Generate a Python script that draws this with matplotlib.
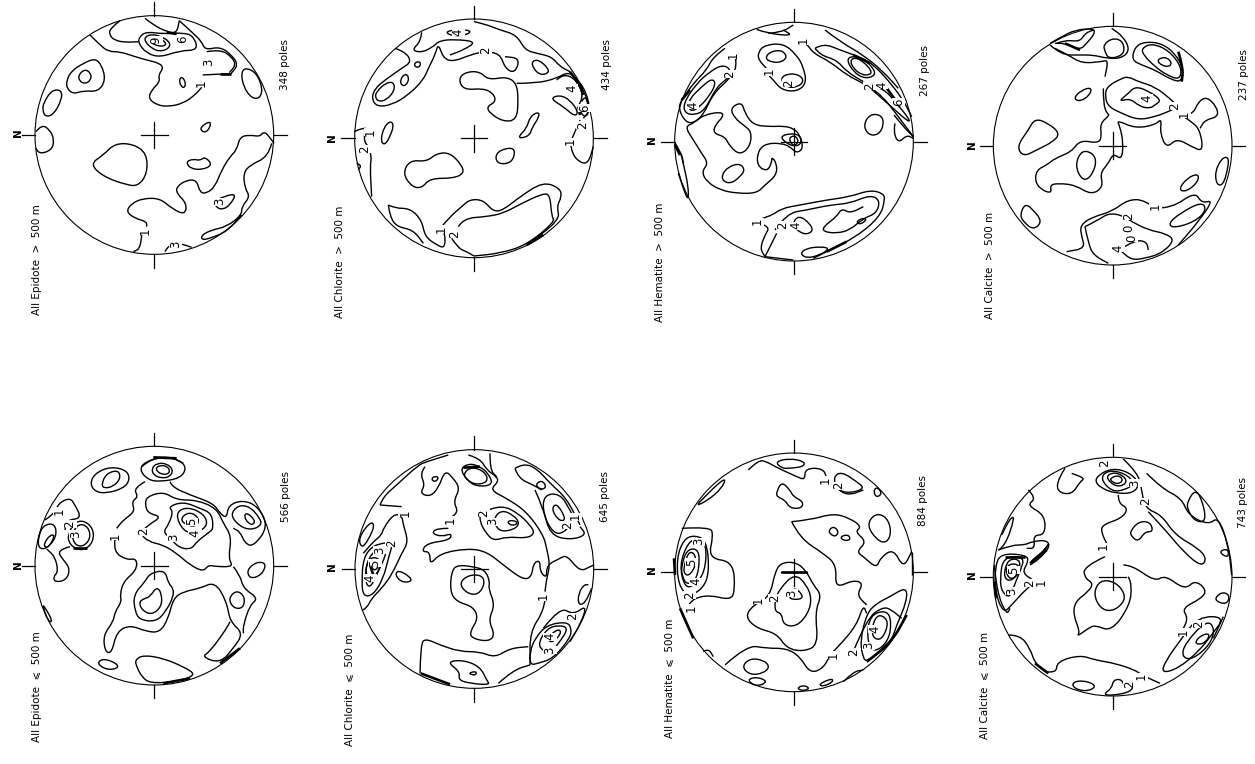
import matplotlib
matplotlib.use("Agg")
import matplotlib.pyplot as plt
from matplotlib.path import Path
from matplotlib.patches import PathPatch, Circle

# contour traces, in 3x crop units of each panel window
epidote_hi_lines = [
    [(210,105),(240,135),(265,155),(300,155),(345,170),(380,180),(420,190),(430,205),(415,225),(420,245),(395,270),(385,295),(410,315),(445,320),(490,310),(525,285),(545,262)],
    [(548,225),(600,222),(632,222)],
    [(375,55),(400,75),(440,95),(470,100),(478,62)],
    [(478,62),(520,100),(545,125),(555,150),(600,140),(635,165),(655,195),(632,222)],
    [(358,110),(380,95),(430,102),(490,98),(520,108),(535,150),(480,152),(420,172),(380,160),(355,130),(358,110)],
    [(375,110),(395,103),(420,108),(450,125),(448,145),(420,155),(395,145),(375,125),(375,110)],
    [(385,115),(405,108),(430,120),(440,135),(420,140),(395,130),(385,115)],
    [(300,62),(270,85),(268,105),(285,122),(320,127),(355,125)],
    [(560,155),(600,148),(635,170),(648,195),(628,218)],
    [(140,240),(155,212),(190,190),(225,175),(245,195),(257,240),(235,275),(190,272),(160,282),(140,265),(140,240)],
    [(175,225),(195,207),(213,220),(213,240),(195,252),(178,243),(175,225)],
    [(70,310),(95,270),(125,270),(125,300),(100,345),(75,350),(68,330),(70,310)],
    [(48,395),(65,373),(90,390),(103,420),(95,450),(60,462),(47,445)],
    [(663,215),(680,203),(710,220),(728,265),(720,295),(695,295),(670,260),(663,215)],
    [(476,245),(485,228),(499,250),(490,267),(476,245)],
    [(537,385),(570,362),(572,380),(555,400),(537,385)],
    [(210,492),(250,465),(285,430),(340,432),(380,460),(382,520),(355,558),(320,555),(250,530),(210,492)],
    [(498,485),(520,477),(540,482),(555,470),(578,495),(545,510),(510,505),(498,485)],
    [(762,430),(745,405),(730,395),(720,410),(690,405),(660,410),(650,450),(630,470),(605,510),(585,560),(560,580),(540,578),(530,540),(500,540),(470,560),(470,580),(500,610),(495,645),(455,625),(420,595),(370,595),(335,610),(318,635),(345,655),(380,665),(380,680)],
    [(365,705),(362,745),(340,755)],
    [(755,430),(745,470),(690,495),(670,520),(675,565),(690,590),(665,620),(665,645),(620,680),(575,690),(545,705),(545,720),(570,715),(620,695),(665,645)],
    [(580,605),(610,590),(650,580),(630,615),(610,628),(592,625),(580,605)],
    [(435,755),(445,735),(480,730),(515,742)],
]
chlorite_hi_lines = [
    [(195,145),(225,155),(245,185),(215,205),(165,240),(135,265),(125,295),(140,320),(185,315),(235,285),(280,240),(295,205),(315,165),(325,130),(340,175),(370,185),(420,165),(460,155),(510,160),(525,205),(555,220),(570,175),(525,170)],
    [(275,97),(272,125),(245,150),(275,158),(310,140),(328,122),(375,118),(440,125),(400,150),(360,165)],
    [(432,65),(465,72),(510,90),(560,105),(585,150),(620,160),(665,170),(690,200),(720,215)],
    [(140,275),(165,250),(190,245),(195,270),(170,300),(145,305),(135,290),(140,275)],
    [(210,240),(225,220),(238,232),(230,255),(215,258),(210,240)],
    [(250,195),(262,183),(274,190),(265,205),(250,195)],
    [(345,95),(385,88),(425,92),(410,105),(365,108),(345,95)],
    [(605,185),(625,178),(655,205),(655,220),(630,225),(610,205),(605,185)],
    [(385,235),(410,215),(450,215),(475,240),(530,230),(560,250),(565,300),(560,360),(520,365),(480,340),(470,320),(498,305),(490,280),(460,265),(400,270),(385,235)],
    [(560,250),(620,250),(680,235),(715,215),(745,240),(770,280),(780,330),(760,355)],
    [(680,240),(700,220),(740,240),(760,285),(745,320)],
    [(660,295),(690,285),(720,300),(745,335),(735,350),(700,320),(660,295)],
    [(755,305),(765,285),(775,315),(775,345),(760,350),(750,330)],
    [(722,425),(735,395),(750,360)],
    [(722,430),(725,460),(750,488),(775,490),(790,440)],
    [(152,425),(160,385),(180,362),(192,375),(180,410),(165,435),(152,425)],
    [(72,395),(105,380),(120,395)],
    [(105,395),(100,420),(115,440),(125,470),(120,500),(125,590)],
    [(80,490),(95,495),(85,510)],
    [(565,410),(590,385),(600,350),(625,335),(628,350),(605,385),(600,405),(575,415),(565,410)],
    [(495,470),(510,450),(550,442),(555,465),(540,490),(505,492),(495,470)],
    [(218,520),(240,480),(290,485),(320,460),(360,458),(395,495),(402,520),(370,535),(300,535),(275,565),(245,560),(218,520)],
    [(335,680),(360,650),(395,620),(420,598),(460,600),(490,635),(520,630),(570,590),(640,545),(690,565),(695,590),(680,620),(690,660),(590,735)],
    [(175,615),(195,625),(240,625),(275,660),(285,710),(320,735),(345,745),(345,700),(335,690)],
    [(175,615),(180,650),(200,680),(250,690),(280,730)],
    [(385,680),(400,655),(470,650),(520,640),(575,610),(640,580),(660,585),(665,650),(675,665),(590,735),(510,760),(432,768)],
    [(365,715),(385,745),(410,755),(432,768)],
]
hematite_hi_lines = [
    [(320,88),(350,100),(430,108),(400,90)],
    [(355,100),(395,97),(430,75)],
    [(445,115),(470,130),(490,160),(540,185),(590,225),(640,250),(695,285),(745,350),(790,410)],
    [(525,90),(570,125),(640,165),(700,215),(745,265)],
    [(495,145),(520,130),(570,150),(640,175),(670,195),(710,235),(760,300),(785,350)],
    [(590,180),(605,168),(640,175),(675,210),(672,230),(640,235),(610,215),(590,180)],
    [(600,182),(615,172),(640,185),(665,212),(660,225),(635,225),(610,205),(600,182)],
    [(495,145),(510,165),(560,180),(590,215),(640,245)],
    [(650,255),(700,265),(740,310),(780,360),(775,365),(735,330),(690,290),(650,255)],
    [(735,370),(730,395),(745,430),(770,405),(790,415)],
    [(732,345),(760,380),(790,410)],
    [(640,375),(660,342),(695,345),(702,375),(685,405),(655,405),(640,375)],
    [(325,155),(345,135),(400,130),(440,165),(460,200),(470,250),(440,275),(395,270),(370,240),(355,225),(355,210),(325,180),(325,155)],
    [(345,175),(360,155),(395,150),(412,170),(395,187),(365,187),(345,175)],
    [(390,235),(415,220),(450,225),(462,245),(440,262),(410,262),(390,235)],
    [(225,145),(190,170),(170,210),(130,250),(95,300)],
    [(255,165),(262,200),(240,235),(190,280),(160,345),(130,370),(105,365),(85,325),(95,300)],
    [(120,295),(150,265),(185,235),(198,250),(180,285),(150,320),(125,335),(115,320),(120,295)],
    [(100,310),(140,250),(180,215),(215,195),(240,205),(240,230),(200,260),(165,330),(135,345),(105,340),(100,310)],
    [(105,380),(130,370),(160,345),(215,335),(220,350),(195,375),(190,400),(225,410),(240,440),(270,465),(300,440),(305,395),(280,375),(255,355),(240,325),(275,305),(285,340),(310,375),(360,380),(400,378),(430,385),(450,405),(460,445),(440,460),(420,440),(395,430),(350,430),(325,450),(320,495),(350,515),(365,490),(365,470),(380,490),(380,525),(345,555),(320,580),(260,580),(210,570),(170,545),(155,515),(175,490),(155,460),(130,420),(105,380)],
    [(215,525),(235,500),(270,490),(285,510),(270,530),(245,550),(220,545),(215,525)],
    [(390,410),(420,400),(450,405),(455,430),(435,440),(410,430),(390,410)],
    [(415,415),(435,405),(447,425),(430,440),(415,415)],
    [(72,425),(90,450),(100,490),(115,560),(115,600),(105,580),(85,520)],
    [(75,435),(95,460),(100,490)],
    [(320,660),(360,650),(395,625),(450,615),(530,600),(600,590),(660,570),(700,580),(705,600),(690,650),(620,710),(530,755),(490,775)],
    [(330,670),(360,680),(345,705),(330,745),(345,770)],
    [(375,690),(410,640),(470,630),(540,615),(600,610),(660,585),(690,600),(680,640),(640,655),(600,690),(560,700),(520,695),(520,680),(560,650),(575,625),(600,640),(640,620)],
    [(345,770),(365,730),(380,700)],
    [(425,675),(445,645),(480,670),(490,695),(460,705),(425,675)],
    [(618,665),(640,653),(650,660),(630,674),(618,665)],
    [(450,760),(470,745),(510,740),(540,745),(510,765),(470,775),(450,760)],
    [(345,770),(430,780)],
]
calcite_hi_lines = [
    [(255,130),(290,110),(330,90),(385,85),(390,100),(365,130),(345,150),(300,130),(270,130)],
    [(255,135),(290,165),(340,165),(385,165),(425,175),(470,175),(495,150),(475,110),(440,85)],
    [(270,145),(310,165),(350,190),(410,185),(430,180),(420,230)],
    [(415,135),(440,115),(470,120),(480,150),(465,170),(430,175),(420,155),(415,135)],
    [(275,130),(300,120),(345,125),(360,100),(385,90)],
    [(500,180),(510,140),(540,125),(590,130),(630,160),(655,205),(650,245),(620,240),(570,210),(530,195),(500,180)],
    [(530,145),(560,130),(610,150),(650,200),(645,240),(605,225),(570,200),(535,165),(530,145)],
    [(575,180),(600,170),(620,185),(615,200),(590,197),(575,180)],
    [(325,295),(350,270),(380,262),(375,285),(345,305),(325,295)],
    [(155,440),(190,390),(210,355),(250,370),(285,400),(265,425),(215,450),(175,470),(155,440)],
    [(165,645),(180,610),(205,630),(232,665),(205,690),(175,665),(165,645)],
    [(750,515),(770,475),(790,470),(790,500),(775,555),(755,555),(750,515)],
    [(640,570),(665,535),(700,520),(700,545),(665,575),(640,570)],
    [(610,670),(645,640),(710,605),(725,630),(690,665),(625,685),(610,670)],
    [(425,260),(470,235),(490,230),(520,245),(570,260),(620,300),(640,320),(610,335),(570,350),(520,360),(470,340),(430,320),(420,290),(425,260)],
    [(460,305),(490,280),(510,260),(545,270),(590,300),(570,315),(555,325),(525,320),(495,295),(460,305)],
    [(415,265),(415,310),(425,340),(435,345),(405,370),(410,410),(400,430),(345,420),(320,455),(270,475),(245,495),(215,510),(210,545),(230,570),(260,580),(255,555),(280,550),(330,555),(380,585),(415,560),(405,520),(430,490),(445,460),(470,480),(475,430),(465,380),(455,360),(510,385),(570,375),(590,355),(585,400),(605,445),(635,415),(680,440),(715,455),(705,390),(680,365),(640,340)],
    [(640,340),(680,350),(700,305),(725,290),(755,320),(760,350),(720,360),(705,385)],
    [(330,495),(350,450),(385,460),(395,490),(375,535),(350,540),(330,495)],
    [(570,625),(540,600),(490,598),(440,635),(385,650),(345,675),(350,710),(360,745),(305,755)],
    [(570,625),(620,625),(690,575),(710,610),(745,600),(700,665),(640,735)],
    [(360,680),(400,660),(430,640),(470,645),(500,665),(550,690),(600,700),(630,720),(590,760),(540,775),(500,780),(470,755),(460,745)],
    [(360,680),(370,730),(385,765),(430,790)],
    [(470,745),(510,720),(545,725),(550,750)],
]
epidote_lo_lines = [
    [(210,175),(225,145),(270,125),(320,135),(330,165),(310,190),(260,205),(225,200),(210,175)],
    [(245,175),(260,145),(295,135),(302,160),(280,185),(250,190),(245,175)],
    [(358,135),(375,110),(430,95),(480,105),(500,130),(480,160),(420,170),(385,165),(358,135)],
    [(395,130),(410,115),(440,115),(460,135),(450,155),(425,160),(400,150),(395,130)],
    [(405,132),(420,120),(445,125),(450,145),(425,150),(405,132)],
    [(365,125),(395,100),(450,95),(490,115)],
    [(375,170),(340,190),(355,215),(335,230),(345,260),(310,285),(290,310)],
    [(450,170),(455,185),(510,210),(580,235),(600,265),(620,280),(625,240),(670,225),(715,245),(745,305),(700,365),(675,355),(660,320),(640,310)],
    [(285,345),(280,380),(320,405),(350,400),(350,435),(310,470),(300,510),(305,530),(285,560),(280,590),(250,630),(255,680),(275,685),(290,620),(330,600),(380,620),(420,622),(445,580),(460,520),(490,500),(540,490),(585,470),(620,530),(630,590),(670,625),(640,670),(600,715),(545,695),(570,680),(620,610),(630,590)],
    [(380,215),(430,200),(470,225),(530,225),(590,250),(610,295),(635,335),(625,400),(640,425),(590,425),(565,420),(550,440),(510,420),(470,385),(430,360),(385,350),(360,325),(385,300),(425,275),(385,265),(375,240),(380,215)],
    [(445,245),(490,230),(540,250),(575,265),(580,310),(570,320),(530,350),(515,372),(480,370),(450,340),(430,320),(445,300),(460,260),(445,245)],
    [(465,265),(500,245),(550,265),(565,300),(530,325),(490,320),(465,265)],
    [(478,285),(505,260),(535,275),(535,300),(510,305),(478,285)],
    [(630,270),(655,240),(690,245),(720,280),(725,300),(695,315),(660,305),(630,270)],
    [(672,275),(680,262),(705,285),(700,300),(685,295),(672,275)],
    [(680,435),(710,410),(740,415),(725,450),(690,462),(680,435)],
    [(625,520),(650,495),(675,515),(670,550),(640,550),(625,520)],
    [(640,425),(660,450),(670,490),(715,520),(690,540),(670,600),(670,625)],
    [(75,285),(105,265),(115,235),(150,218),(165,240),(185,280),(140,285),(135,315)],
    [(145,330),(160,295),(190,285),(220,310),(220,350),(195,375),(165,372),(145,350),(145,330)],
    [(155,330),(175,295),(205,305),(212,340),(190,365),(165,360),(155,330)],
    [(55,335),(70,300),(105,295),(110,335),(80,372),(55,370),(55,335)],
    [(72,355),(90,330),(105,330),(90,362),(75,368),(72,355)],
    [(150,365),(110,375),(130,405),(150,430),(140,465),(105,472),(100,455),(115,440),(105,395),(80,372)],
    [(340,510),(375,470),(390,445),(435,435),(445,475),(460,490),(460,515),(440,555),(410,590),(360,585),(345,560),(340,510)],
    [(357,530),(375,520),(390,515),(410,485),(425,505),(425,545),(395,570),(365,555),(357,530)],
    [(230,715),(250,700),(290,715),(295,730),(260,735),(230,715)],
    [(345,705),(370,690),(430,700),(490,725),(530,750),(470,770),(390,775),(365,755),(350,725),(345,705)],
    [(65,535),(80,555),(98,590),(85,590),(65,535)],
]
chlorite_lo_lines = [
    [(85,340),(120,290),(135,300),(115,345),(95,370),(85,340)],
    [(98,555),(110,550),(125,520),(155,490),(185,450),(215,385),(235,350),(220,300),(215,270),(190,268),(160,310),(155,330),(130,350),(100,385)],
    [(100,515),(95,470),(100,400),(125,365),(155,355),(190,350),(175,400),(160,460),(130,510),(100,515)],
    [(105,470),(110,410),(135,375),(165,365),(170,385),(140,450),(120,490),(105,470)],
    [(105,440),(115,405),(135,395),(155,410),(140,450),(120,465),(105,440)],
    [(120,420),(135,405),(150,415),(135,440),(120,420)],
    [(195,450),(205,435),(240,455),(245,470),(215,472),(195,450)],
    [(150,240),(160,215),(200,180),(265,120),(290,110),(355,90)],
    [(150,240),(215,245)],
    [(285,125),(270,145),(285,180),(270,205),(300,215),(325,190),(345,135),(370,160),(390,190),(370,230),(385,260),(360,280)],
    [(355,310),(320,310),(305,325),(335,335),(365,325),(360,345),(290,355),(275,380),(300,380),(300,420),(330,385),(415,370),(470,380),(520,420),(580,465),(605,455),(610,415),(630,405),(630,440),(650,460),(650,420),(690,400),(710,390),(750,440),(780,425),(792,420)],
    [(415,90),(450,100),(470,135),(500,155),(505,170),(480,195),(530,220),(590,260),(640,330),(650,370),(660,420),(650,460),(645,500)],
    [(480,85),(480,135),(500,155)],
    [(390,130),(420,115),(450,125),(475,145),(490,180),(440,185),(410,165),(390,130)],
    [(400,145),(425,125),(465,140),(475,170),(440,180),(410,165),(400,145)],
    [(303,162),(315,153),(327,158),(315,172),(303,162)],
    [(555,130),(580,115),(620,130),(660,175),(710,220),(750,300)],
    [(555,130),(565,160),(610,180),(635,195)],
    [(615,180),(635,165),(650,185),(635,195),(615,180)],
    [(640,210),(690,205),(720,255),(735,285),(700,325),(670,325),(640,270),(640,210)],
    [(615,195),(640,250),(660,330),(720,345),(770,330),(750,305)],
    [(665,250),(680,235),(705,275),(700,290),(680,280),(665,250)],
    [(450,265),(515,240),(565,265),(600,300),(615,325),(590,340),(530,335),(490,348),(465,320),(450,290),(450,265)],
    [(490,280),(515,255),(550,270),(570,295),(550,315),(505,320),(490,280)],
    [(530,290),(550,285),(565,295),(545,303),(530,290)],
    [(365,435),(385,420),(430,425),(465,435),(480,470),(475,490),(495,540),(475,585),(495,630),(475,650),(425,640),(420,620),(445,580),(430,545),(380,530),(360,500),(365,435)],
    [(387,475),(415,450),(455,450),(465,475),(445,510),(410,505),(387,475)],
    [(645,525),(640,560),(600,620),(600,720)],
    [(775,480),(765,475),(745,505),(745,540),(765,535),(785,490)],
    [(615,640),(650,600),(710,590),(725,610),(720,640),(670,700),(625,715),(600,720),(600,680),(615,640)],
    [(640,610),(690,545),(730,570),(770,540),(755,590),(720,650)],
    [(620,665),(650,610),(690,600),(715,610),(690,650),(660,685),(620,665)],
    [(650,640),(685,610),(695,625),(665,655),(650,640)],
    [(270,745),(272,660),(285,640),(330,660),(390,680),(450,680),(495,698),(540,670),(595,665)],
    [(350,710),(400,705),(450,725),(470,765),(480,780),(420,775),(385,765),(390,740),(350,710)],
    [(413,745),(440,738),(437,752),(413,745)],
    [(505,775),(550,735),(600,720)],
]
hematite_lo_lines = [
    [(295,135),(325,105),(350,110),(375,125),(440,155),(465,165),(465,130),(520,130),(530,160)],
    [(375,110),(420,100),(465,110),(460,125),(420,130),(395,130),(375,110)],
    [(550,155),(575,140),(620,170),(645,190),(600,205),(560,195),(550,155)],
    [(540,170),(570,200),(600,210),(640,195)],
    [(670,200),(680,185),(697,205),(680,218),(670,200)],
    [(135,245),(170,210),(205,175),(228,160),(215,190),(175,225),(135,245)],
    [(380,200),(395,170),(420,195),(430,215),(460,230),(455,250),(420,250),(405,225),(380,215),(380,200)],
    [(650,300),(675,265),(710,275),(725,320),(710,355),(680,345),(650,300)],
    [(425,290),(480,285),(550,265),(600,280),(635,305),(615,320),(650,350),(620,380),(640,395),(680,430),(690,400),(730,370),(760,430),(785,380)],
    [(425,290),(450,340),(520,385),(560,420),(555,490),(610,465),(640,475),(620,510),(650,540)],
    [(533,320),(550,303),(567,320),(555,337),(533,320)],
    [(570,335),(595,328),(602,345),(580,347),(570,335)],
    [(785,380),(785,450)],
    [(95,310),(180,305),(190,330),(175,400),(250,410),(255,500),(240,525),(180,510),(130,520),(110,550)],
    [(80,400),(100,345),(130,330),(170,345),(178,440),(160,490),(115,515),(85,480),(80,400)],
    [(88,420),(115,350),(145,340),(170,360),(165,440),(135,480),(105,490),(88,420)],
    [(95,420),(110,375),(140,370),(150,400),(140,465),(110,480),(95,450),(95,420)],
    [(100,430),(115,380),(135,385),(138,420),(120,450),(105,450),(100,430)],
    [(285,575),(310,540),(360,515),(375,440),(395,412),(440,412),(470,440),(490,480),(515,510),(495,560),(505,660),(460,680),(410,670),(380,625),(320,610),(285,575)],
    [(375,525),(390,490),(435,445),(470,480),(485,520),(475,565),(440,605),(400,600),(395,565),(375,560),(375,525)],
    [(415,510),(435,485),(465,520),(425,525),(415,510)],
    [(640,700),(630,650),(650,565),(680,535),(720,515),(770,485),(770,530),(740,600),(720,660),(650,710),(640,700)],
    [(610,680),(650,580),(700,545),(725,555),(755,580)],
    [(650,640),(660,570),(710,555),(725,590),(715,650),(670,685),(650,640)],
    [(665,610),(680,570),(705,575),(715,600),(695,645),(670,640),(665,610)],
    [(540,690),(570,660),(620,600),(640,540),(650,565)],
    [(225,720),(290,660),(350,670),(410,670),(450,695),(480,745),(520,730),(540,690)],
    [(275,725),(300,700),(340,705),(360,725),(340,745),(300,750),(275,725)],
    [(290,765),(320,755),(355,770),(320,785),(290,765)],
    [(440,790),(460,780),(480,790),(460,798),(440,790)],
    [(505,778),(545,760),(550,770),(520,785),(505,778)],
    [(580,770),(610,740),(640,735)],
    [(160,680),(175,670),(190,695)],
]
calcite_lo_lines = [
    [(300,100),(280,130),(275,170),(320,180),(345,140),(360,130),(320,115)],
    [(390,140),(400,120),(440,100),(490,110),(525,145),(505,175),(450,175),(410,160),(390,140)],
    [(405,130),(430,105),(480,115),(510,145),(480,165),(440,170),(405,130)],
    [(420,125),(450,110),(485,130),(480,150),(450,155),(420,125)],
    [(435,130),(460,120),(475,135),(460,148),(440,140),(435,130)],
    [(475,72),(520,115),(530,165),(540,220),(590,240),(630,300),(700,340),(725,370),(710,395),(660,355),(605,290),(550,230)],
    [(545,115),(590,160),(650,190),(670,240),(730,270),(760,245),(790,330),(800,420)],
    [(670,195),(690,165),(710,190),(725,260),(690,260),(665,220),(670,195)],
    [(760,350),(790,340),(790,370),(760,350)],
    [(460,180),(460,205),(490,220),(470,250),(410,270),(410,295),(425,325)],
    [(420,365),(355,395),(360,430),(385,445),(370,470),(330,500),(325,540),(345,590),(335,605),(370,580),(390,570),(440,590),(495,510),(500,450),(490,425)],
    [(475,390),(500,390),(570,440),(600,420),(660,465),(690,435),(725,465),(710,490),(650,520),(670,550),(650,590)],
    [(385,475),(405,435),(450,440),(480,475),(475,505),(440,530),(405,520),(385,475)],
    [(495,290),(520,260),(555,260),(565,290),(540,290),(520,320),(500,305),(495,290)],
    [(190,165),(215,190),(185,210),(240,240),(240,300),(205,300),(210,340),(185,340)],
    [(100,345),(140,330),(180,330),(200,320),(245,315),(255,335),(225,370),(195,390)],
    [(100,345),(120,335),(150,245),(135,250),(110,300)],
    [(90,400),(105,355),(185,360),(190,380),(170,415),(215,440),(185,460),(140,510),(115,535),(90,470),(90,400)],
    [(105,430),(115,365),(180,365),(165,410),(150,445),(135,490),(110,470),(105,430)],
    [(120,405),(135,385),(165,390),(160,420),(135,435),(120,405)],
    [(115,420),(130,370),(170,375),(155,425),(130,440),(115,420)],
    [(190,385),(245,340),(255,320),(225,365),(190,385)],
    [(130,600),(165,600),(195,640),(210,685),(240,710)],
    [(240,710),(275,715),(275,680),(345,660),(390,675),(450,685),(510,705),(530,720),(585,745)],
    [(318,745),(350,735),(395,750),(375,768),(335,765),(318,745)],
    [(415,778),(440,760),(445,735),(470,732),(480,760),(505,745),(500,770),(440,782),(415,778)],
    [(745,495),(770,470),(795,480),(785,510),(745,495)],
    [(590,715),(600,680),(650,610),(700,545),(780,545),(740,600),(700,650),(640,700),(590,715)],
    [(650,665),(660,625),(725,555),(750,580),(735,630),(680,675),(650,665)],
    [(690,620),(710,600),(735,595),(725,620),(700,630),(690,620)],
    [(745,610),(775,545)],
    [(88,390),(95,470),(125,540),(135,520)],
]

# heavy traces where several contours merge along the rim
epidote_hi_heavy = [[(440,97),(470,102)], [(600,222),(632,222)]]
chlorite_hi_heavy = [[(720,215),(750,255),(760,285)], [(590,735),(640,705)], [(745,320),(750,345)]]
hematite_hi_heavy = [[(120,270),(95,300)], [(610,165),(660,190)], [(700,250),(750,320)], [(75,435),(90,465)], [(530,755),(590,725)]]
calcite_hi_heavy = [[(640,155),(655,205),(650,245)], [(300,130),(345,150)]]
epidote_lo_heavy = [[(400,97),(470,100)], [(600,715),(660,670)], [(430,775),(510,760)], [(160,370),(200,370)]]
chlorite_lo_heavy = [[(272,745),(360,778)], [(120,420),(130,450)], [(400,128),(450,125)]]
hematite_lo_heavy = [[(650,710),(720,660),(770,570)], [(90,550),(130,640)], [(72,400),(75,450)], [(392,440),(472,440)]]
calcite_lo_heavy = [[(120,365),(180,365)], [(195,385),(245,345)], [(88,440),(95,490)], [(210,685),(250,715)]]

epidote_hi_labels = [(408,120,"9"),(487,118,"6"),(567,188,"3"),(545,250,"1"),(375,693,"1"),(598,605,"3"),(467,732,"3")]
chlorite_hi_labels = [(385,97,"4"),(467,150,"2"),(725,265,"4"),(765,325,"6"),(757,375,"2"),(722,425,"1"),(122,397,"1"),(105,447,"2"),(333,687,"1"),(375,702,"2")]
hematite_hi_labels = [(460,122,"1"),(357,215,"1"),(415,250,"2"),(250,165,"1"),(240,222,"2"),(128,315,"4"),(660,258,"2"),(695,255,"4"),(745,307,"6"),(322,665,"1"),(398,675,"2"),(438,677,"4")]
calcite_hi_labels = [(545,295,"4"),(628,318,"2"),(658,342,"1"),(572,618,"1"),(490,648,"2"),(490,685,"0"),(460,745,"4"),(500,715,"0")]
epidote_lo_labels = [(118,258,"1"),(150,298,"2"),(168,328,"3"),(285,333,"1"),(370,320,"2"),(462,338,"3"),(525,325,"4"),(515,290,"5")]
chlorite_lo_labels = [(225,265,"1"),(185,355,"2"),(150,375,"3"),(120,460,"4"),(135,415,"5"),(360,285,"1"),(460,265,"2"),(488,290,"3"),(735,275,"1"),(712,300,"2"),(640,515,"1"),(728,575,"2"),(660,675,"3"),(660,635,"4")]
hematite_lo_labels = [(565,182,"2"),(525,165,"1"),(145,350,"3"),(125,412,"5"),(137,470,"4"),(118,510,"2"),(123,550,"1"),(325,525,"1"),(375,520,"2"),(425,505,"3"),(675,612,"4"),(655,662,"3"),(612,682,"2"),(550,690,"1")]
calcite_lo_labels = [(418,85,"2"),(510,145,"3"),(542,200,"2"),(415,335,"1"),(145,405,"5"),(140,468,"3"),(195,445,"2"),(230,442,"1"),(655,592,"1"),(700,568,"2"),(530,725,"1"),(495,748,"2")]

titles = ["All Epidote  >  500 m", "All Chlorite  >  500 m", "All Hematite  >  500 m", "All Calcite  >  500 m",
          "All Epidote  \u2a7d  500 m", "All Chlorite  \u2a7d  500 m", "All Hematite  \u2a7d  500 m", "All Calcite  \u2a7d  500 m"]
pole_counts = ["348 poles", "434 poles", "267 poles", "237 poles", "566 poles", "645 poles", "884 poles", "743 poles"]
all_lines = [epidote_hi_lines, chlorite_hi_lines, hematite_hi_lines, calcite_hi_lines,
             epidote_lo_lines, chlorite_lo_lines, hematite_lo_lines, calcite_lo_lines]
all_heavy = [epidote_hi_heavy, chlorite_hi_heavy, hematite_hi_heavy, calcite_hi_heavy,
             epidote_lo_heavy, chlorite_lo_heavy, hematite_lo_heavy, calcite_lo_heavy]
all_labels = [epidote_hi_labels, chlorite_hi_labels, hematite_hi_labels, calcite_hi_labels,
              epidote_lo_labels, chlorite_lo_labels, hematite_lo_labels, calcite_lo_labels]

windows = [(20,0),(330,0),(650,0),(965,0),(20,425),(330,425),(650,425),(965,435)]
centers = [(403,405),(432,415),(432,425),(443,437),(403,422),(433,432),(432,442),(443,425)]
title_pos = [(37,260),(340,262),(660,262),(990,265),(37,687),(350,690),(670,678),(985,685)]
count_pos = [(285,65),(607,65),(925,70),(1244,75),(286,497),(605,497),(923,501),(1243,503)]
north_pos = [(18,133),(332,138),(652,140),(972,145),(18,565),(332,567),(652,570),(972,575)]

WIN = 290
RADIUS = 358


def smooth_path(pts):
    closed = pts[0] == pts[-1]
    mid = lambda a, b: ((a[0] + b[0]) / 2, (a[1] + b[1]) / 2)
    if closed:
        pts = pts[:-1]
        verts = [mid(pts[-1], pts[0])]
        codes = [Path.MOVETO]
        for i, p in enumerate(pts):
            verts += [p, mid(p, pts[(i + 1) % len(pts)])]
            codes += [Path.CURVE3, Path.CURVE3]
    else:
        verts = [pts[0]]
        codes = [Path.MOVETO]
        for i in range(1, len(pts) - 1):
            verts += [pts[i], mid(pts[i], pts[i + 1])]
            codes += [Path.CURVE3, Path.CURVE3]
        verts.append(pts[-1])
        codes.append(Path.LINETO)
    return Path(verts, codes)


def draw_net(fig, window, center, lines, heavy, labels):
    left, top = window
    ax = fig.add_axes([left / 1255, 1 - (top + WIN) / 764, WIN / 1255, WIN / 764])
    ax.set_xlim(0, WIN * 3)
    ax.set_ylim(WIN * 3, 0)
    ax.axis("off")
    cx, cy = center
    ax.add_patch(Circle((cx, cy), RADIUS, fill=False, ec="k", lw=0.8))
    # north/east/south/west ticks and the centre cross
    ax.plot([cx, cx], [cy - RADIUS - 40, cy - RADIUS], color="k", lw=0.9)
    ax.plot([cx, cx], [cy + RADIUS, cy + RADIUS + 40], color="k", lw=0.9)
    ax.plot([cx - RADIUS - 40, cx - RADIUS], [cy, cy], color="k", lw=0.9)
    ax.plot([cx + RADIUS, cx + RADIUS + 40], [cy, cy], color="k", lw=0.9)
    ax.plot([cx - 40, cx + 40], [cy, cy], color="k", lw=0.9)
    ax.plot([cx, cx], [cy - 40, cy + 40], color="k", lw=0.9)
    for pts in lines:
        ax.add_patch(PathPatch(smooth_path(pts), fill=False, ec="k", lw=1.0))
    for pts in heavy:
        ax.add_patch(PathPatch(smooth_path(pts), fill=False, ec="k", lw=1.9))
    for x, y, s in labels:
        ax.text(x, y, s, rotation=90, fontsize=8.5, ha="center", va="center", color="k",
                bbox=dict(fc="white", ec="none", pad=0.2))


fig = plt.figure(figsize=(12.55, 7.64), dpi=100, facecolor="white")
for i in range(8):
    draw_net(fig, windows[i], centers[i], all_lines[i], all_heavy[i], all_labels[i])
    fig.text(title_pos[i][0] / 1255, 1 - title_pos[i][1] / 764, titles[i], rotation=90,
             fontsize=7.5, ha="center", va="center")
    fig.text(count_pos[i][0] / 1255, 1 - count_pos[i][1] / 764, pole_counts[i], rotation=90,
             fontsize=7.5, ha="center", va="center")
    fig.text(north_pos[i][0] / 1255, 1 - north_pos[i][1] / 764, "N", rotation=90,
             fontsize=7.5, fontweight="bold", ha="center", va="center")

fig.savefig("out.png", dpi=100)
